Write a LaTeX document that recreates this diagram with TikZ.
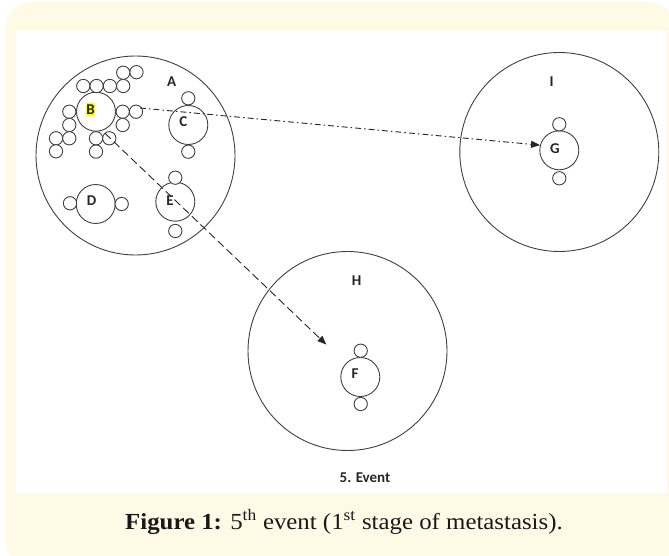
\documentclass[tikz,border=0pt]{standalone}
\usepackage{fontspec}
\setmainfont{Liberation Serif}
\newfontfamily\labfont{Carlito}
\usetikzlibrary{arrows.meta}
\definecolor{cream}{HTML}{FFFAE6}
\definecolor{hl}{HTML}{FFFF00}
\begin{document}
\begin{tikzpicture}[x=1pt,y=-1pt,
  ring/.style={circle,draw=black!75,line width=0.9pt,inner sep=0pt,minimum size=199pt},
  cell/.style={circle,draw=black!75,line width=0.9pt,fill=white,inner sep=0pt,minimum size=39pt},
  sc/.style={circle,draw=black!75,line width=0.9pt,fill=white,inner sep=0pt,minimum size=13.3pt},
  lbl/.style={font=\labfont\bfseries\fontsize{15}{15}\selectfont,inner sep=0pt,text=black!85},
  conn/.style={line width=0.9pt,draw=black!85,-{Triangle[length=9pt,width=7pt]}},
  dashconn/.style={conn,dash pattern=on 8pt off 4pt},
  dotconn/.style={conn,dash pattern=on 6pt off 3pt on 1.5pt off 3pt}]
\useasboundingbox (0,0) rectangle (669,556);
\begin{scope}
\clip (0,0) rectangle (669,556);
\fill[cream,rounded corners=28pt] (5,2) rectangle (676,566);
\end{scope}
\fill[white] (16,31) rectangle (667,493);
% outer rings
\node[ring] (A) at (135.5,155.5) {};
\node[ring] (I) at (559.3,152) {};
\node[ring] (H) at (347.5,351) {};
% cells
\node[cell] (B) at (96,111.7) {};
\node[cell] (C) at (188.3,125) {};
\node[cell] (D) at (95.7,204) {};
\node[cell] (E) at (175.3,201.7) {};
\node[cell] (G) at (559.3,150.3) {};
\node[cell] (F) at (360.3,377) {};
% small circles
\node[sc] (c1) at (188.3,98.3) {};
\node[sc] (c2) at (188.3,151.7) {};
\node[sc] (d1) at (70,203.3) {};
\node[sc] (d2) at (121.7,204) {};
\node[sc] (e1) at (175.3,177.7) {};
\node[sc] (e2) at (175.3,231) {};
\node[sc] (g1) at (559.3,124.3) {};
\node[sc] (g2) at (559.3,178.3) {};
\node[sc] (f1) at (360.7,350.7) {};
\node[sc] (f2) at (360.7,404) {};
\node[sc] (b1) at (83.3,86) {};
\node[sc] (b2) at (96.6,86) {};
\node[sc] (b3) at (109.9,86) {};
\node[sc] (b4) at (123.2,86) {};
\node[sc] (b5) at (123.2,72.7) {};
\node[sc] (b6) at (136.5,72.2) {};
\node[sc] (b7) at (69.3,111.7) {};
\node[sc] (b8) at (69.3,125) {};
\node[sc] (b9) at (56,138.3) {};
\node[sc] (b10) at (69.3,138.3) {};
\node[sc] (b11) at (56,151.3) {};
\node[sc] (b12) at (96,138.3) {};
\node[sc] (b13) at (96,151.6) {};
\node[sc] (b14) at (109.3,138.3) {};
\node[sc] (b15) at (122.7,111.7) {};
\node[sc] (b16) at (136,111.7) {};
\node[sc] (b17) at (122.7,125) {};
% labels
\node[lbl] (lA) at (171.7,81.7) {A};
\node[lbl,fill=hl,inner xsep=0.6pt,inner ysep=2pt] (lB) at (90.5,109.5) {B};
\node[lbl] (lC) at (183.3,121.7) {C};
\node[lbl] (lD) at (91.7,200.7) {D};
\node[lbl] (lE) at (170,200.7) {E};
\node[lbl] (lG) at (555,148.3) {G};
\node[lbl] (lF) at (355,373.3) {F};
\node[lbl] (lI) at (551.7,81.7) {I};
\node[lbl] (lH) at (356.7,280.7) {H};
% connectors
\coordinate (p1) at (140,108);
\coordinate (p2) at (105,133.3);
\draw[dotconn] (p1) -- (G.165);
\draw[dashconn,shorten >=27pt] (p2) -- (F);
% texts
\node[lbl] (ev) at (365,478) {5. Event};
\node[font=\fontsize{23}{23}\selectfont,inner sep=0pt,text=black!90,xscale=1.08] (cap) at (344,522) {\textbf{Figure 1:} 5\textsuperscript{th} event (1\textsuperscript{st} stage of metastasis).};
\end{tikzpicture}
\end{document}
